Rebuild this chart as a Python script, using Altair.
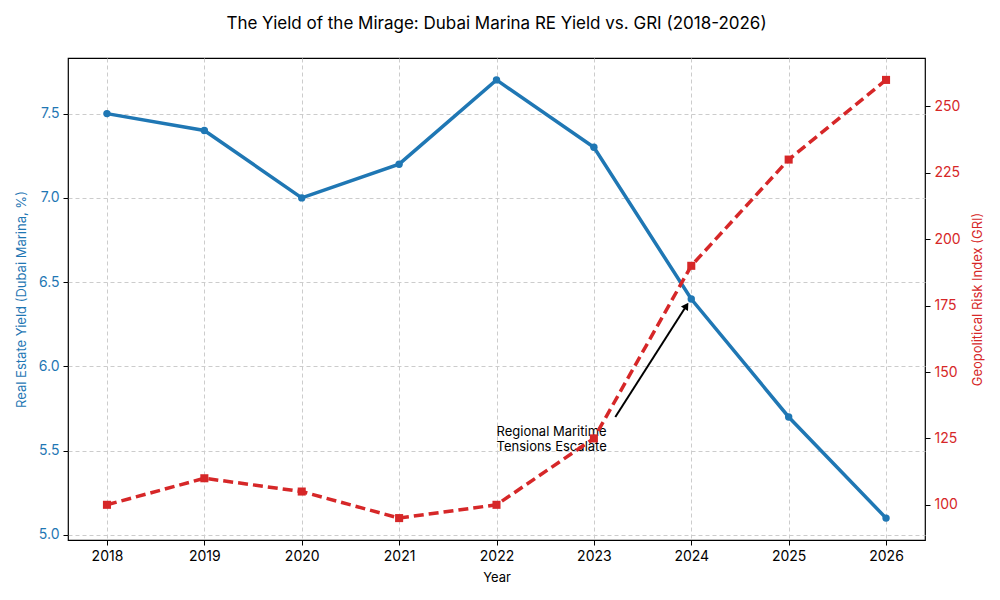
import altair as alt
import pandas as pd

years = [2018, 2019, 2020, 2021, 2022, 2023, 2024, 2025, 2026]
yield_pct = [7.5, 7.4, 7.0, 7.2, 7.7, 7.3, 6.4, 5.7, 5.1]
gri = [100, 110, 105, 95, 100, 125, 190, 230, 260]

ann_text = ["Regional Maritime", "Tensions Escalate"]
ann_text_pos = [2022, 5.5]
arrow_start = [2023.22, 5.70]
arrow_end = [2023.95, 6.36]

BLUE = "#1f77b4"
RED = "#d62728"
FONT = "Inter"

df = pd.DataFrame({"Year": years, "Yield": yield_pct, "GRI": gri})
txt_df = pd.DataFrame({"x": [ann_text_pos[0]], "y": [ann_text_pos[1]], "t": ["\n".join(ann_text)]})
arr_df = pd.DataFrame({"x": [arrow_start[0]], "y": [arrow_start[1]],
                       "x2": [arrow_end[0]], "y2": [arrow_end[1]]})
head_df = pd.DataFrame({"x": [arrow_end[0]], "y": [arrow_end[1]]})

xscale = alt.Scale(domain=[2017.6, 2026.4], nice=False, zero=False)
xaxis = alt.Axis(values=years, format="d", title="Year", grid=True, gridDash=[4, 3],
                 gridColor="#cccccc", tickColor="black", labelColor="black",
                 labelFontSize=14, titleFontSize=13, titleFontWeight="normal",
                 tickSize=5, labelPadding=4, titlePadding=8, domain=False)

yl_scale = alt.Scale(domain=[4.97, 7.83], nice=False, zero=False)
yl_axis = alt.Axis(values=[5.0, 5.5, 6.0, 6.5, 7.0, 7.5], format=".1f",
                   title="Real Estate Yield (Dubai Marina, %)", titleColor=BLUE,
                   labelColor=BLUE, grid=True, gridDash=[4, 3], gridColor="#cccccc",
                   tickColor="black", labelFontSize=14, titleFontSize=13,
                   titleFontWeight="normal", tickSize=5, labelPadding=4,
                   titlePadding=10, domain=False)

yr_scale = alt.Scale(domain=[86.75, 268.25], nice=False, zero=False)
yr_axis = alt.Axis(values=[100, 125, 150, 175, 200, 225, 250], format="d",
                   title="Geopolitical Risk Index (GRI)", titleColor=RED,
                   labelColor=RED, grid=False, tickColor="black", labelFontSize=14,
                   titleFontSize=13, titleFontWeight="normal", tickSize=5,
                   labelPadding=4, titlePadding=24, domain=False, orient="right",
                   titleAngle=270)

X = alt.X("Year:Q", scale=xscale, axis=xaxis)

base = alt.Chart(df)
y_line = base.mark_line(color=BLUE, strokeWidth=3.5).encode(
    x=X, y=alt.Y("Yield:Q", scale=yl_scale, axis=yl_axis))
y_pts = base.mark_point(color=BLUE, filled=True, opacity=1, size=55, shape="circle").encode(
    x=X, y=alt.Y("Yield:Q", scale=yl_scale, axis=yl_axis))

arrow = alt.Chart(arr_df).mark_rule(color="black", strokeWidth=2).encode(
    x=alt.X("x:Q", scale=xscale, axis=xaxis),
    y=alt.Y("y:Q", scale=yl_scale, axis=yl_axis),
    x2="x2:Q", y2="y2:Q")
head = alt.Chart(head_df).mark_point(shape="triangle-up", filled=True, color="black",
                                      opacity=1, size=70, angle=33).encode(
    x=alt.X("x:Q", scale=xscale, axis=xaxis),
    y=alt.Y("y:Q", scale=yl_scale, axis=yl_axis))
label = alt.Chart(txt_df).mark_text(align="left", baseline="bottom", fontSize=13,
                                     font=FONT, color="black", lineBreak="\n",
                                     lineHeight=15, dy=-12).encode(
    x=alt.X("x:Q", scale=xscale, axis=xaxis),
    y=alt.Y("y:Q", scale=yl_scale, axis=yl_axis),
    text="t:N")

left = alt.layer(y_line, y_pts, arrow, head, label)

g_line = base.mark_line(color=RED, strokeWidth=3.5, strokeDash=[10, 5]).encode(
    x=X, y=alt.Y("GRI:Q", scale=yr_scale, axis=yr_axis))
g_pts = base.mark_point(color=RED, filled=True, opacity=1, size=65, shape="square").encode(
    x=X, y=alt.Y("GRI:Q", scale=yr_scale, axis=yr_axis))
right = alt.layer(g_line, g_pts)

chart = alt.layer(left, right).resolve_scale(y="independent").properties(
    width=857, height=482,
    title=alt.TitleParams("The Yield of the Mirage: Dubai Marina RE Yield vs. GRI (2018-2026)",
                          fontSize=17, fontWeight="normal", font=FONT, color="black",
                          anchor="middle", offset=25),
    autosize=alt.AutoSizeParams(type="none"),
    padding={"left": 60, "top": 50, "right": 67, "bottom": 52},
    background="white",
).configure_view(stroke="black", strokeWidth=1.2).configure_axis(
    labelFont=FONT, titleFont=FONT)

chart.save("out.html", embed_options={"renderer": "svg", "actions": False})
